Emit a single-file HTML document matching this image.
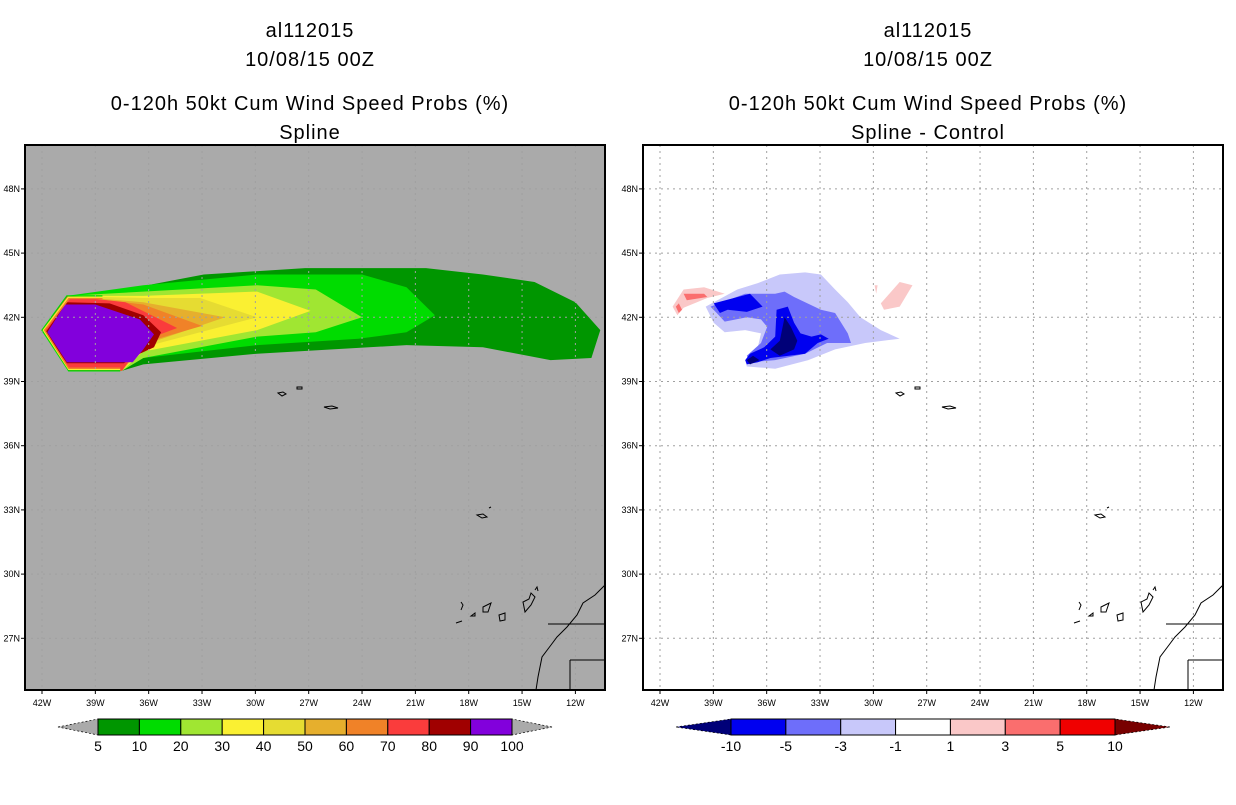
<!DOCTYPE html>
<html><head><meta charset="utf-8">
<style>
html,body{margin:0;padding:0;background:#fff;}
body{width:1236px;height:800px;overflow:hidden;font-family:"Liberation Sans",sans-serif;}
svg text{font-family:"Liberation Sans",sans-serif;}
</style></head>
<body>
<svg id="fig" width="1236" height="800" viewBox="0 0 1236 800" xmlns="http://www.w3.org/2000/svg">
<g font-size="20" text-anchor="middle" letter-spacing="1">
<text x="310" y="37">al112015</text><text x="310" y="66">10/08/15 00Z</text>
<text x="310" y="110">0-120h 50kt Cum Wind Speed Probs (%)</text><text x="310" y="139">Spline</text></g>
<g font-size="20" text-anchor="middle" letter-spacing="1">
<text x="928" y="37">al112015</text><text x="928" y="66">10/08/15 00Z</text>
<text x="928" y="110">0-120h 50kt Cum Wind Speed Probs (%)</text><text x="928" y="139">Spline - Control</text></g>
<g id="left"></g>
<g id="right"></g>
<g id="cbl"></g>
<g id="cbr"></g>
</svg>
<script>
const lonTicks=[-42,-39,-36,-33,-30,-27,-24,-21,-18,-15,-12];
const latTicks=[48,45,42,39,36,33,30,27];
const probLevels=[5,10,20,30,40,50,60,70,80,90,100];
const probColors=["#009600","#00dc00","#a0e632","#faf032","#e6dc32","#e6af2d","#f08228","#fa3c3c","#a00000","#8200dc"];
const diffLevels=[-10,-5,-3,-1,1,3,5,10];
const diffColors=["#000078","#0000f0","#6e6efa","#c8c8fa","#ffffff","#fac8c8","#fa6e6e","#f00000","#780000"];
const oct=[[-37.5,39.5],[-40.5,39.5],[-42.0,41.4],[-40.6,43.0]];
const P5=[[-40.6,43.0],[-38.6,43.1],[-32.9,44.0],[-27.2,44.3],[-20.4,44.3],[-17.2,44.0],[-14.3,43.65],[-12.0,42.7],[-10.6,41.4],[-11.1,40.1],[-13.4,40.0],[-17.2,40.6],[-21.5,40.7],[-29.9,40.3],[-36.3,39.8]];
const P10=[[-40.6,43.0],[-36.3,43.5],[-29.9,44.0],[-24.0,44.0],[-21.5,43.4],[-19.9,42.1],[-21.5,41.3],[-24.2,41.0],[-29.9,40.7],[-36.3,40.1]];
const P20=[[-40.6,43.0],[-36.3,43.2],[-29.9,43.5],[-26.6,43.3],[-24.0,42.0],[-26.6,41.3],[-29.9,41.1],[-36.3,40.1]];
const P30=[[-40.6,43.0],[-36.3,43.0],[-29.9,43.2],[-26.9,42.3],[-29.9,41.4],[-36.3,40.4]];
const P40=[[-40.6,43.0],[-36.3,42.9],[-33.1,42.9],[-29.9,42.0],[-33.1,41.3],[-36.3,40.6]];
const P50=[[-40.6,43.0],[-36.3,42.7],[-31.7,42.0],[-36.3,40.7]];
const P60=[[-40.6,43.0],[-36.3,42.6],[-33.0,41.6],[-36.3,40.8]];
const P70=[[-40.6,43.0],[-37.3,42.7],[-34.4,41.5],[-36.3,40.9]];
const P80=[[-40.6,42.7],[-38.2,42.65],[-36.3,42.1],[-35.3,41.3],[-35.7,40.6],[-36.5,40.3],[-37.4,39.85],[-40.6,39.85],[-41.8,41.3]];
const P90=[[-40.7,42.6],[-39.0,42.6],[-36.5,41.9],[-35.7,41.2],[-36.3,40.5],[-36.9,39.9],[-40.6,39.9],[-41.7,41.3]];
const Dlight=[[-39.43,42.5],[-37.65,43.3],[-36.5,43.6],[-35.26,44.0],[-33.84,44.1],[-32.95,44.0],[-32.15,43.3],[-31.44,42.7],[-30.73,42.0],[-29.58,41.4],[-28.52,41.0],[-30.46,40.8],[-32.15,40.5],[-33.66,40.0],[-35.52,39.6],[-37.12,39.7],[-37.21,40.0],[-36.5,40.6],[-36.32,41.25],[-37.21,41.4],[-38.36,41.3],[-38.98,41.75]];
const Dmid=[[-39.16,42.5],[-37.21,43.1],[-35.52,43.1],[-34.99,43.2],[-34.46,42.95],[-32.95,42.35],[-32.15,42.2],[-31.44,41.25],[-31.26,40.8],[-32.6,40.8],[-33.84,40.3],[-35.52,40.0],[-36.94,39.9],[-37.12,40.2],[-36.32,40.8],[-35.97,41.55],[-36.32,41.9],[-37.12,42.0],[-38.36,41.8],[-38.81,42.2]];
const DblueA=[[-38.98,42.65],[-36.94,43.1],[-36.23,42.5],[-37.12,42.25],[-38.19,42.35],[-38.63,42.2]];
const DblueB=[[-35.44,42.35],[-34.81,42.5],[-34.46,41.75],[-34.1,41.25],[-33.48,41.1],[-32.95,41.2],[-32.51,41.0],[-33.13,40.8],[-33.84,40.3],[-35.79,40.1],[-36.5,39.9],[-37.12,39.8],[-37.21,40.0],[-36.94,40.3],[-36.14,40.6],[-35.52,41.1]];
const DnavyA=[[-34.99,42.0],[-34.64,41.55],[-34.28,40.9],[-34.46,40.5],[-35.26,40.2],[-35.79,40.5],[-35.26,40.9]];
const DnavyB=[[-37.12,40.0],[-36.77,40.2],[-36.41,40.0],[-36.94,39.8]];
const DpinkA=[[-41.29,42.5],[-40.67,43.3],[-39.52,43.4],[-38.36,43.1],[-39.34,42.9],[-40.67,42.45],[-41.02,42.1]];
const DpinkB=[[-29.58,42.65],[-28.52,43.65],[-27.8,43.5],[-28.52,42.5],[-29.4,42.35]];
const DpinkC=[[-29.93,43.5],[-29.76,43.5],[-29.84,43.1]];
const DredA=[[-40.67,43.1],[-39.52,43.1],[-39.34,42.95],[-40.49,42.8]];
const DredB=[[-41.11,42.5],[-40.94,42.65],[-40.76,42.35],[-40.94,42.2]];

const NS="http://www.w3.org/2000/svg";
const X0=25,Y0=145,W=580,H=545;
function px(lon){return 42+(lon+42)*17.78-25;}
function py(lat){return 317.3-(lat-42)*21.4-145;}
function mk(tag,attrs,parent){const e=document.createElementNS(NS,tag);for(const k in attrs)e.setAttribute(k,attrs[k]);parent.appendChild(e);return e;}
function poly(parent,pts,fill,name){
  const e=mk('polygon',{points:pts.map(p=>px(p[0]).toFixed(1)+','+py(p[1]).toFixed(1)).join(' '),fill:fill},parent);
  
  
  return e;
}
function panel(id,ox,bg){
  const g=document.getElementById(id);
  g.setAttribute('transform','translate('+ox+','+Y0+')');
  const cl=mk('clipPath',{id:'clip'+id},g);mk('rect',{x:0,y:0,width:W,height:H},cl);
  const bgr=mk('rect',{x:0,y:0,width:W,height:H,fill:bg},g);
  
  
  const inner=mk('g',{'clip-path':'url(#clip'+id+')'},g);
  return {g:g,inner:inner};
}
function grid(p){
  const gg=mk('g',{stroke:'#a0a0a0','stroke-width':1,'stroke-dasharray':'2,4'},p.inner);
  lonTicks.forEach(l=>{mk('line',{x1:px(l),x2:px(l),y1:0,y2:H},gg);});
  latTicks.forEach(l=>{mk('line',{x1:0,x2:W,y1:py(l),y2:py(l)},gg);});
}
function coast(p){
  const c=mk('g',{fill:'none',stroke:'#000','stroke-width':1},p.inner);
  
  
  const paths=["M253,248 l5,-1 l3,2 l-4,2 z","M272,242 l5,0 l0,2 l-5,0 z","M299,262 l8,-1 l6,2 l-8,1 z",
  "M452,370 l6,-1 l4,3 l-5,1 z M464,363 l2,-1",
  "M436,465 l2,-5 l-2,-3 M450,468 l-4,3 l4,0 z M458,462 l8,-4 l-3,9 l-5,0 z M474,470 l6,-2 l0,7 l-5,1 z M500,467 l6,-7 l4,-8 l-4,-4 l-2,6 l-6,3 z M510,445 l2,-3 l1,4 M431,478 l6,-2",
  "M580,440 l-10,10 l-12,8 l-6,12 l-10,12 l-10,10 l-6,8 l-9,12 l-4,20 l-2,13",
  "M523,479 L580,479 M545,515 L580,515 M545,515 L545,545"];
  paths.forEach(d=>mk('path',{d:d},c));
}
function frame(p,ox){
  const f=mk('rect',{x:0,y:0,width:W,height:H,fill:'none',stroke:'#000','stroke-width':2},p.g);
  
  
  const t=mk('g',{'font-size':9,fill:'#000'},p.g);
  lonTicks.forEach(l=>{
    mk('line',{x1:px(l),x2:px(l),y1:H,y2:H+4,stroke:'#000'},t);
    const tx=mk('text',{x:px(l),y:H+16,'text-anchor':'middle'},t);tx.textContent=(-l)+'W';
    
    
  });
  latTicks.forEach(l=>{
    mk('line',{x1:-4,x2:0,y1:py(l),y2:py(l),stroke:'#000'},t);
    const tx=mk('text',{x:-5,y:py(l)+3,'text-anchor':'end'},t);tx.textContent=l+'N';
    
    
  });
}
// left
const L=panel('left',X0,'#aaaaaa');
[P5,P10,P20,P30,P40,P50,P60,P70].forEach((pp,i)=>poly(L.inner,pp.concat(oct),probColors[i],'prob-contour-'+probLevels[i]));
poly(L.inner,P80,probColors[8],'prob-contour-80');
poly(L.inner,P90,probColors[9],'prob-contour-90');
// octagon ring (open outline)
[['#00dc00',0],['#faf032',1.4],['#f08228',2.6]].forEach(r=>{
  const pts=[[-38.6,43.0],[-40.6,43.0],[-42.0,41.4],[-40.5,39.5],[-37.6,39.5]];
  const ring=mk('polyline',{points:pts.map(p=>(px(p[0])+(p[0]<-40.55?r[1]:0)+(p[0]<-41.9?0:0))+','+(py(p[1])+(p[1]>42?r[1]:(p[1]<40?-r[1]:0)))).join(' '),fill:'none',stroke:r[0],'stroke-width':1.3},L.inner);
  
  
});
grid(L);coast(L);frame(L,X0);
// right
const R=panel('right',643,'#ffffff');
poly(R.inner,Dlight,diffColors[3],'diff-minus1');
poly(R.inner,Dmid,diffColors[2],'diff-minus3');
poly(R.inner,DblueA,diffColors[1],'diff-minus5');
poly(R.inner,DblueB,diffColors[1],'diff-minus5');
poly(R.inner,DnavyA,diffColors[0],'diff-minus10');
poly(R.inner,DnavyB,diffColors[0],'diff-minus10');
poly(R.inner,DpinkA,diffColors[5],'diff-plus1');
poly(R.inner,DpinkB,diffColors[5],'diff-plus1');
poly(R.inner,DpinkC,diffColors[5],'diff-plus1');
poly(R.inner,DredA,diffColors[6],'diff-plus3');
poly(R.inner,DredB,diffColors[6],'diff-plus3');
grid(R);coast(R);frame(R,643);
// colorbars
function cbar(id,x0,x1,tipL,tipR,colors,labels,labelAtStart,tipColL,tipColR){
  const g=document.getElementById(id);
  const y0=719,y1=735,ym=727,n=colors.length,w=(x1-x0)/n;
  const a=mk('polygon',{points:tipL+','+ym+' '+x0+','+y0+' '+x0+','+y1,fill:tipColL,stroke:'#000','stroke-width':0.7,'stroke-dasharray':'2,2'},g);
  
  
  const b=mk('polygon',{points:tipR+','+ym+' '+x1+','+y0+' '+x1+','+y1,fill:tipColR,stroke:'#000','stroke-width':0.7,'stroke-dasharray':'2,2'},g);
  
  
  colors.forEach((c,i)=>{
    const r=mk('rect',{x:x0+i*w,y:y0,width:w,height:y1-y0,fill:c,stroke:'#000','stroke-width':1},g);
    
    
  });
  labels.forEach((l,i)=>{
    const t=mk('text',{x:x0+(i+(labelAtStart?0:1))*w,y:751,'font-size':14,'text-anchor':'middle'},g);
    t.textContent=l;
    
    
  });
}
cbar('cbl',98,512,58,552,probColors,probLevels,true,'#aaaaaa','#aaaaaa');
cbar('cbr',731,1115,676,1170,diffColors.slice(1,8),diffLevels,true,diffColors[0],diffColors[8]);
</script>
</body></html>
